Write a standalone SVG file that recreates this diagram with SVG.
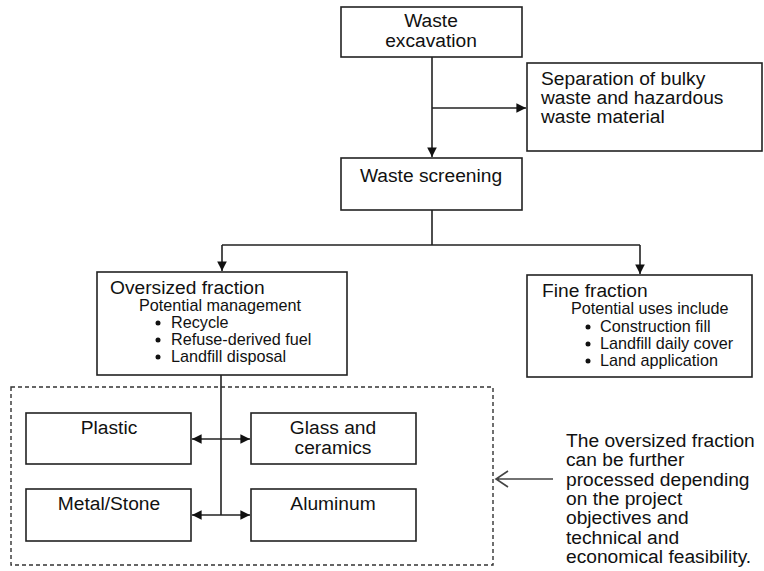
<svg xmlns="http://www.w3.org/2000/svg" width="764" height="571" viewBox="0 0 764 571">
  <style>
    .box { fill: #fff; stroke: #222; stroke-width: 1.6; }
    .dash { fill: none; stroke: #333; stroke-width: 1.4; stroke-dasharray: 4 3; }
    .ln { fill: none; stroke: #222; stroke-width: 1.6; }
    text { font-family: "Liberation Sans", Arial, sans-serif; fill: #111; }
    .t { font-size: 19.2px; }
    .s { font-size: 16.2px; }
    .c { text-anchor: middle; }
    .dot { fill: #111; }
  </style>
  <defs>
    <marker id="arr" viewBox="0 0 10 10" refX="10" refY="5" markerWidth="6" markerHeight="6" orient="auto-start-reverse" markerUnits="strokeWidth">
      <path d="M0,0 L10,5 L0,10 z" fill="#111"/>
    </marker>
  </defs>
  <rect width="764" height="571" fill="#fff"/>

  <!-- connectors -->
  <g id="connectors">
    <path class="ln" d="M432,57 V157" marker-end="url(#arr)"/>
    <path class="ln" d="M432,108 H526" marker-end="url(#arr)"/>
    <path class="ln" d="M432,210 V245 M222,245 H640"/>
    <path class="ln" d="M222,245 V271" marker-end="url(#arr)"/>
    <path class="ln" d="M640,245 V274" marker-end="url(#arr)"/>
    <path class="ln" d="M221,375 V515"/>
    <path class="ln" d="M192,439 H250" marker-start="url(#arr)" marker-end="url(#arr)"/>
    <path class="ln" d="M192,515 H250" marker-start="url(#arr)" marker-end="url(#arr)"/>
    <path fill="none" stroke="#444" stroke-width="1.6" d="M553,479 H496 M508,471 L496,479 L508,487"/>
  </g>

  <g id="excavation">
    <rect class="box" x="341" y="7" width="181" height="50"/>
    <text class="t c" x="431" y="27">Waste</text>
    <text class="t c" x="431" y="47">excavation</text>
  </g>

  <g id="separation">
    <rect class="box" x="527" y="63" width="235" height="88"/>
    <text class="t" x="541" y="85">Separation of bulky</text>
    <text class="t" x="541" y="104">waste and hazardous</text>
    <text class="t" x="541" y="123">waste material</text>
  </g>

  <g id="screening">
    <rect class="box" x="341" y="158" width="181" height="52"/>
    <text class="t c" x="431" y="182">Waste screening</text>
  </g>

  <g id="oversized">
    <rect class="box" x="97" y="272" width="250" height="103"/>
    <text class="t" x="110" y="294">Oversized fraction</text>
    <text class="s" x="139" y="311">Potential management</text>
    <circle class="dot" cx="158" cy="323" r="2.5"/>
    <text class="s" x="171" y="328">Recycle</text>
    <circle class="dot" cx="158" cy="340" r="2.5"/>
    <text class="s" x="171" y="345">Refuse-derived fuel</text>
    <circle class="dot" cx="158" cy="357" r="2.5"/>
    <text class="s" x="171" y="362">Landfill disposal</text>
  </g>

  <g id="fine">
    <rect class="box" x="527" y="275" width="225" height="102"/>
    <text class="t" x="542" y="297">Fine fraction</text>
    <text class="s" x="571" y="314">Potential uses include</text>
    <circle class="dot" cx="588" cy="327" r="2.5"/>
    <text class="s" x="600" y="332">Construction fill</text>
    <circle class="dot" cx="588" cy="344" r="2.5"/>
    <text class="s" x="600" y="349">Landfill daily cover</text>
    <circle class="dot" cx="588" cy="361" r="2.5"/>
    <text class="s" x="600" y="366">Land application</text>
  </g>

  <g id="processing">
    <rect class="dash" x="11" y="387" width="482" height="178"/>
  </g>

  <g id="plastic">
    <rect class="box" x="26" y="413" width="165" height="51"/>
    <text class="t c" x="109" y="434">Plastic</text>
  </g>

  <g id="glass">
    <rect class="box" x="251" y="413" width="165" height="51"/>
    <text class="t c" x="333" y="434">Glass and</text>
    <text class="t c" x="333" y="454">ceramics</text>
  </g>

  <g id="metal">
    <rect class="box" x="26" y="489" width="165" height="52"/>
    <text class="t c" x="109" y="510">Metal/Stone</text>
  </g>

  <g id="aluminum">
    <rect class="box" x="251" y="489" width="165" height="52"/>
    <text class="t c" x="333" y="510">Aluminum</text>
  </g>

  <g id="note">
    <text class="t" x="566" y="447">The oversized fraction</text>
    <text class="t" x="566" y="466">can be further</text>
    <text class="t" x="566" y="486">processed depending</text>
    <text class="t" x="566" y="505">on the project</text>
    <text class="t" x="566" y="524">objectives and</text>
    <text class="t" x="566" y="544">technical and</text>
    <text class="t" x="566" y="563">economical feasibility.</text>
  </g>
</svg>
